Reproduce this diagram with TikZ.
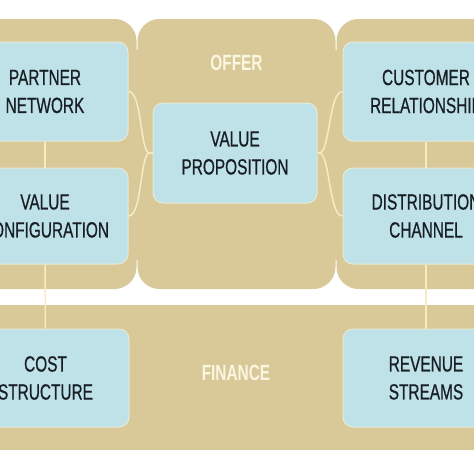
\documentclass[tikz,border=0pt]{standalone}
\usepackage{fontspec}
\setmainfont[FakeStretch=0.7]{Liberation Sans}
\newfontfamily\boxfont[FakeStretch=0.7,FakeBold=0.6]{Liberation Sans}
\definecolor{tanpanel}{RGB}{217,201,153}
\definecolor{boxblue}{RGB}{190,226,232}
\definecolor{boxrim}{RGB}{230,234,215}
\definecolor{creamline}{RGB}{246,236,196}
\definecolor{darktext}{RGB}{24,30,36}
\definecolor{lighttext}{RGB}{250,246,226}
\tikzset{
  panel/.style={fill=tanpanel, draw=none, rounded corners=22pt},
  bbox/.style={fill=boxblue, draw=boxrim, line width=1pt, rounded corners=10pt,
    align=center, text=darktext, inner sep=0pt,
    font=\boxfont\fontsize{22}{28}\selectfont},
  conn/.style={draw=creamline, line width=1.5pt},
  title/.style={text=lighttext, font=\bfseries\fontsize{22}{26}\selectfont}
}
\begin{document}
\begin{tikzpicture}[x=1pt,y=-1pt]
\useasboundingbox (0,0) rectangle (474,474);
\clip (0,0) rectangle (474,474);
\fill[white] (0,0) rectangle (474,474);
% panels
\fill[tanpanel] (130,50) rectangle (345,260);
\fill[panel] (-60,19) rectangle (136.5,289);
\fill[panel] (137.5,19) rectangle (335.5,289);
\fill[panel] (336.5,19) rectangle (540,289);
\fill[tanpanel] (-20,305) rectangle (494,450);
% titles
\node[title] (offer) at (236.5,63) {OFFER};
\node[title] (finance) at (236,373) {FINANCE};
% boxes
\node[bbox, minimum width=166pt, minimum height=99pt] (pn) at (45,91.5) {PARTNER\\NETWORK};
\node[bbox, minimum width=166pt, minimum height=96pt] (vc) at (45,216) {VALUE\\CONFIGURATION};
\node[bbox, minimum width=167pt, minimum height=98pt] (cs) at (45.5,378) {COST\\STRUCTURE};
\node[bbox, minimum width=164pt, minimum height=100pt] (vp) at (235,153) {VALUE\\PROPOSITION};
\node[bbox, minimum width=166pt, minimum height=99pt] (cr) at (426,91.5) {CUSTOMER\\RELATIONSHIP};
\node[bbox, minimum width=166pt, minimum height=96pt] (dc) at (426,216) {DISTRIBUTION\\CHANNEL};
\node[bbox, minimum width=166pt, minimum height=98pt] (rs) at (426,378) {REVENUE\\STREAMS};
% vertical connectors
\draw[conn] (pn.south) -- (vc.north);
\draw[conn] (vc.south) -- (cs.north);
\draw[conn] (cr.south) -- (dc.north);
\draw[conn] (dc.south) -- (rs.north);
% brace connectors
\coordinate (jl) at (149,153);
\coordinate (jr) at (320,153);
\draw[conn] (pn.east) .. controls (142,91.5) and (140,150) .. (jl);
\draw[conn] (vc.east) .. controls (142,216) and (140,156) .. (jl);
\draw[conn] (jl) -- (vp.west);
\draw[conn] (vp.east) -- (jr);
\draw[conn] (jr) .. controls (330,150) and (329,91.5) .. (cr.west);
\draw[conn] (jr) .. controls (330,156) and (329,216) .. (dc.west);
\end{tikzpicture}
\end{document}
